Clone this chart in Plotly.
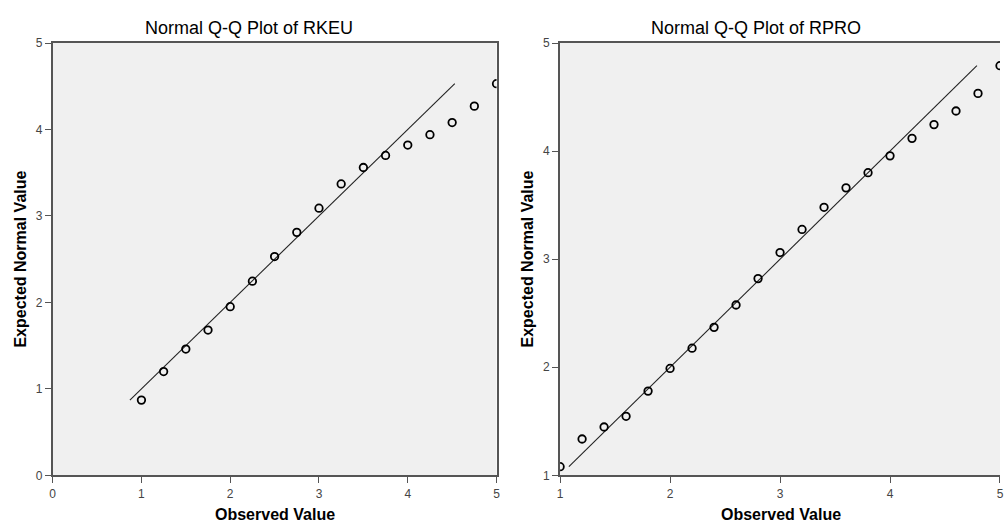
import plotly.graph_objects as go

# ---- data ----
rkeu_observed = [1.0, 1.25, 1.5, 1.75, 2.0, 2.25, 2.5, 2.75, 3.0, 3.25, 3.5,
                 3.75, 4.0, 4.25, 4.5, 4.75, 5.0]
rkeu_expected = [0.87, 1.20, 1.46, 1.68, 1.95, 2.245, 2.53, 2.81, 3.09, 3.37,
                 3.56, 3.70, 3.82, 3.94, 4.08, 4.27, 4.53]

rpro_observed = [1.0, 1.2, 1.4, 1.6, 1.8, 2.0, 2.2, 2.4, 2.6, 2.8, 3.0, 3.2,
                 3.4, 3.6, 3.8, 4.0, 4.2, 4.4, 4.6, 4.8, 5.0]
rpro_expected = [1.08, 1.336, 1.447, 1.546, 1.779, 1.989, 2.176, 2.369, 2.576,
                 2.82, 3.061, 3.275, 3.48, 3.66, 3.80, 3.956, 4.118, 4.245,
                 4.371, 4.534, 4.79]

titles = ["Normal Q-Q Plot of RKEU", "Normal Q-Q Plot of RPRO"]
x_title = "Observed Value"
y_title = "Expected Normal Value"
left_ticks = [0, 1, 2, 3, 4, 5]
right_ticks = [1, 2, 3, 4, 5]

W, H = 1004, 531
FONT = "Liberation Sans, Arial, sans-serif"
marker = dict(symbol="circle-open", size=7.5, color="black", line=dict(width=1.8))
line_style = dict(color="#222222", width=1.1)

fig = go.Figure()

# reference lines (y = x between min and max expected)
lo1, hi1 = min(rkeu_expected), max(rkeu_expected)
fig.add_trace(go.Scatter(x=[lo1, hi1], y=[lo1, hi1], mode="lines",
                         line=line_style, xaxis="x", yaxis="y", hoverinfo="skip"))
fig.add_trace(go.Scatter(x=rkeu_observed, y=rkeu_expected, mode="markers",
                         marker=marker, xaxis="x", yaxis="y"))

lo2, hi2 = min(rpro_expected), max(rpro_expected)
fig.add_trace(go.Scatter(x=[lo2, hi2], y=[lo2, hi2], mode="lines",
                         line=line_style, xaxis="x2", yaxis="y2", hoverinfo="skip"))
fig.add_trace(go.Scatter(x=rpro_observed, y=rpro_expected, mode="markers",
                         marker=marker, xaxis="x2", yaxis="y2"))

ydom = [(H - 481) / H, (H - 37) / H]
axis_common = dict(showgrid=False, zeroline=False, showline=True,
                   linecolor="#555555", linewidth=1.8, ticks="outside",
                   ticklen=6, tickwidth=1.4, tickcolor="#555555",
                   tickfont=dict(family=FONT, size=12, color="#444444"),
                   fixedrange=True)

fig.update_layout(
    width=W, height=H,
    margin=dict(l=0, r=0, t=0, b=0),
    paper_bgcolor="white",
    plot_bgcolor="#F0F0F0",
    showlegend=False,
    xaxis=dict(domain=[50 / W, 497 / W], range=[0, 5], tickvals=left_ticks,
               mirror=True, anchor="y", **axis_common),
    yaxis=dict(domain=ydom, range=[0, 5], tickvals=left_ticks,
               mirror=True, anchor="x", **axis_common),
    xaxis2=dict(domain=[561 / W, 1.0], range=[1, 5], tickvals=right_ticks,
                mirror=True, anchor="y2", **axis_common),
    yaxis2=dict(domain=ydom, range=[1, 5], tickvals=right_ticks,
                mirror=False, anchor="x2", **axis_common),
)

ann = []
for cx, t in zip([248 / W, 758 / W], titles):
    ann.append(dict(text=t, x=cx, y=(H - 22) / H, xref="paper", yref="paper",
                    showarrow=False, xanchor="center", yanchor="middle",
                    font=dict(family=FONT, size=18, color="black")))
for cx in [273.5 / W, 783 / W]:
    ann.append(dict(text="<b>" + x_title + "</b>", x=cx, y=(H - 521.5) / H,
                    xref="paper", yref="paper", showarrow=False,
                    xanchor="center", yanchor="middle",
                    font=dict(family=FONT, size=16, color="black")))
for cx in [17.5 / W, 528 / W]:
    ann.append(dict(text="<b>" + y_title + "</b>", x=cx, y=(H - 259) / H,
                    xref="paper", yref="paper", showarrow=False, textangle=-90,
                    xanchor="center", yanchor="middle",
                    font=dict(family=FONT, size=16, color="black")))
fig.update_layout(annotations=ann)

fig.write_html("out.html")
